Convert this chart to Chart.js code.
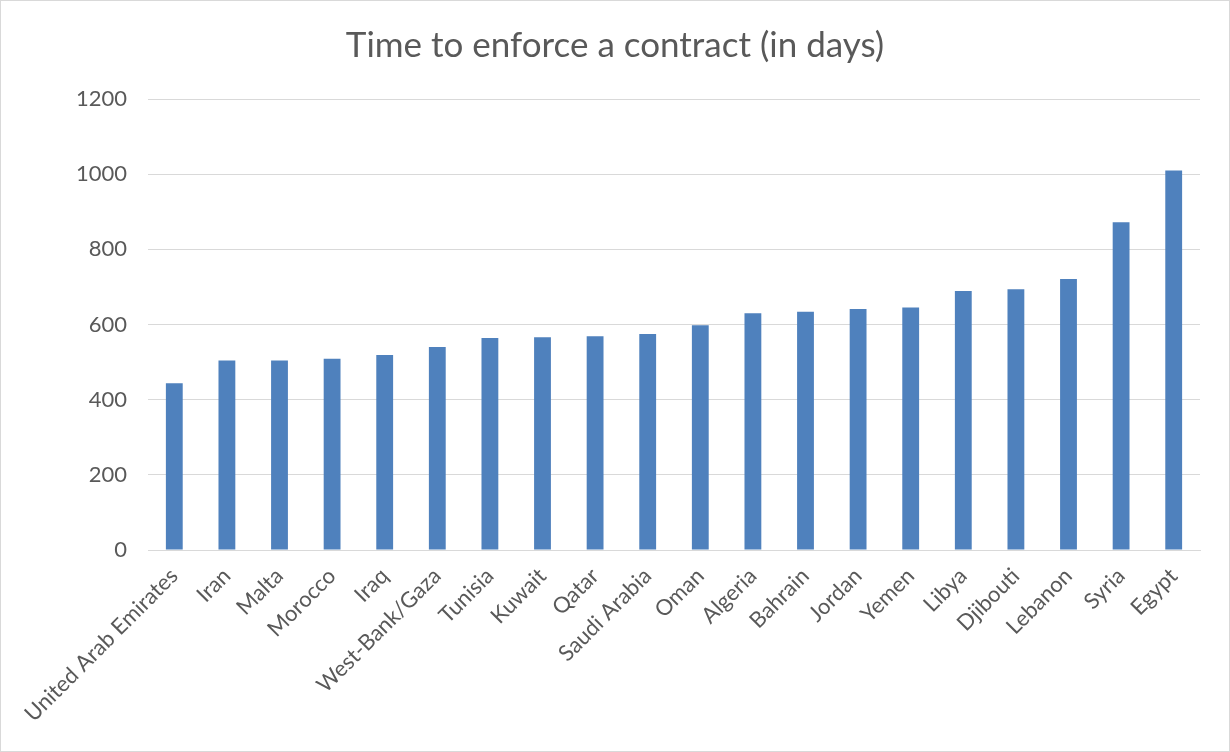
<!DOCTYPE html>
<html>
<head>
<meta charset="utf-8">
<script src="https://cdn.jsdelivr.net/npm/chart.js@4.4.1/dist/chart.umd.min.js"></script>
<style>
  body { margin: 0; background: #fff; }
  #box { width: 1228px; height: 750px; border: 1px solid #d9d9d9; }
</style>
</head>
<body>
<div id="box"><canvas id="chart" width="1228" height="750"></canvas></div>
<script>
// data
const countries = ["United Arab Emirates", "Iran", "Malta", "Morocco", "Iraq", "West-Bank/Gaza",
  "Tunisia", "Kuwait", "Qatar", "Saudi Arabia", "Oman", "Algeria", "Bahrain", "Jordan",
  "Yemen", "Libya", "Djibouti", "Lebanon", "Syria", "Egypt"];
const days = [444, 504, 504, 509, 519, 540, 564, 566, 569, 575, 598, 630, 634, 641, 645, 689, 694, 721, 872, 1010];
const yTicks = [0, 200, 400, 600, 800, 1000, 1200];

const textColor = "#595959";
const gridColor = "#d9d9d9";
const fontName = "Lato, 'Liberation Sans', sans-serif";

const ctx = document.getElementById("chart").getContext("2d");
const chart = new Chart(ctx, {
  type: "bar",
  data: {
    labels: countries,
    datasets: [{
      label: "Days",
      data: days,
      backgroundColor: "#4f81bd",
      borderWidth: 0,
      categoryPercentage: 1,
      barPercentage: 0.32
    }]
  },
  options: {
    responsive: false,
    animation: false,
    // equal side padding keeps the title centred on the canvas
    layout: { padding: { left: 29, right: 29, top: 0, bottom: 0 } },
    plugins: {
      legend: { display: false },
      tooltip: { enabled: false },
      title: {
        display: true,
        text: "Time to enforce a contract (in days)",
        color: textColor,
        font: { family: fontName, size: 35, weight: "normal" },
        padding: { top: 24, bottom: 32 }
      }
    },
    scales: {
      x: {
        grid: { display: false, drawTicks: false },
        border: { display: true, color: gridColor, width: 1 },
        ticks: {
          color: textColor,
          font: { family: fontName, size: 22 },
          minRotation: 45,
          maxRotation: 45,
          autoSkip: false,
          padding: 13
        },
        afterFit: (s) => { s.height = 201; }
      },
      y: {
        min: 0,
        max: 1200,
        afterBuildTicks: (s) => { s.ticks = yTicks.map(v => ({ value: v })); },
        grid: { color: gridColor, lineWidth: 1, drawTicks: false },
        border: { display: false },
        ticks: {
          color: textColor,
          font: { family: fontName, size: 22 },
          padding: 21,
          callback: (v) => String(v)
        },
        afterFit: (s) => { s.width = 118; }
      }
    }
  }
});
</script>
</body>
</html>
